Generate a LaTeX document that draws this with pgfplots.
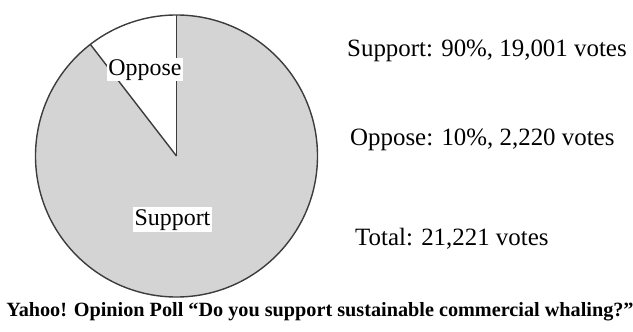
\documentclass[border=0pt]{standalone}
\usepackage{pgfplots}
\pgfplotsset{compat=1.18}
\usepackage{fontspec}
\setmainfont{Liberation Serif}
\definecolor{piegrey}{RGB}{212,212,212}
\definecolor{pieline}{RGB}{60,60,60}
\begin{document}
\begin{tikzpicture}[x=1bp,y=1bp]
\path[use as bounding box] (0,0) rectangle (633,331);
\def\support{19001}
\def\oppose{2220}
\edef\oppang{\fpeval{round(90+360*\oppose/(\support+\oppose),3)}}
\begin{axis}[
  at={(176.5bp,175bp)}, anchor=center,
  scale only axis, width=282bp, height=282bp,
  hide axis, xmin=-1, xmax=1, ymin=-1, ymax=1,
  clip=false]
\fill[piegrey] (axis cs:0,0) -- ++(\oppang:141bp) arc[start angle=\oppang, end angle=450, radius=141bp] -- cycle;
\fill[white] (axis cs:0,0) -- ++(90:141bp) arc[start angle=90, end angle=\oppang, radius=141bp] -- cycle;
\draw[pieline, line width=1.4bp] (axis cs:0,0) circle[radius=141bp];
\draw[pieline, line width=1.4bp] (axis cs:0,0) -- ++(90:141bp);
\draw[pieline, line width=1.4bp] (axis cs:0,0) -- ++(\oppang:141bp);
\end{axis}
\node[fill=white, inner sep=1bp, anchor=base, font=\fontsize{24}{28}\selectfont] at (145,256) {Oppose};
\node[fill=white, inner sep=2bp, anchor=base, font=\fontsize{24}{28}\selectfont] at (172.5,106) {Support};
\node[anchor=base west, inner sep=0pt, font=\fontsize{25}{28}\selectfont] at (347,275) {Support: 90\%, 19,001 votes};
\node[anchor=base west, inner sep=0pt, font=\fontsize{25}{28}\selectfont] at (350,186) {Oppose: 10\%, 2,220 votes};
\node[anchor=base west, inner sep=0pt, font=\fontsize{25}{28}\selectfont] at (355,86) {Total: 21,221 votes};
\node[anchor=base, inner sep=0pt, font=\bfseries\fontsize{20.3}{24}\selectfont] at (320,15) {Yahoo! Opinion Poll “Do you support sustainable commercial whaling?”};
\end{tikzpicture}
\end{document}
